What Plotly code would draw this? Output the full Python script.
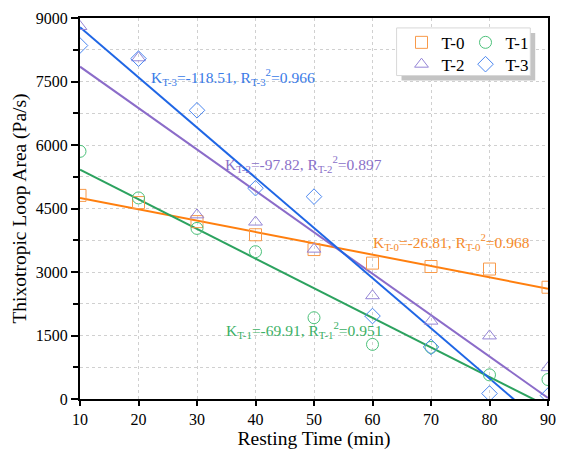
import numpy as np
import plotly.graph_objects as go

time_min = [10, 20, 30, 40, 50, 60, 70, 80, 90]
t0 = [4810, 4640, 4190, 3880, 3530, 3210, 3130, 3070, 2640]
t1 = [5850, 4750, 4030, 3480, 1920, 1290, 1220, 570, 460]
t2 = [8800, 8060, 4350, 4180, 3540, 2440, 1840, 1490, 740]
t3 = [8350, 8040, 6820, 4980, 4780, 1960, 1230, 130, 80]
names = ["T-0", "T-1", "T-2", "T-3"]
slopes = [-26.81, -69.91, -97.82, -118.51]
r2 = [0.968, 0.951, 0.897, 0.966]

series = [t0, t1, t2, t3]
symbols = ["square-open", "circle-open", "triangle-up-open", "diamond-open"]
marker_colors = ["#F89A4A", "#4CC17A", "#9585D6", "#4A86F0"]
line_colors = ["#FF7F0E", "#2CA25F", "#8B6CC9", "#1F66E5"]
text_colors = ["#F58A2A", "#3BB065", "#8A70C8", "#3A7BE8"]
label_pos = [(59.7, 3720), (34.6, 1640), (34.4, 5560), (21.8, 7600)]
legend_ids = ["legend", "legend", "legend2", "legend2"]

FONT = "Liberation Serif, Times New Roman, Times, serif"

fig = go.Figure()
x = np.array(time_min, dtype=float)
for i in range(4):
    y = np.array(series[i], dtype=float)
    b = y.mean() - slopes[i] * x.mean()
    fig.add_trace(go.Scatter(x=x, y=slopes[i] * x + b, mode="lines",
                             line=dict(color=line_colors[i], width=2),
                             showlegend=False, hoverinfo="skip"))

for i in range(4):
    fig.add_trace(go.Scatter(x=time_min, y=series[i], mode="markers", name=names[i],
                             legend=legend_ids[i],
                             marker=dict(symbol=symbols[i], size=12, color=marker_colors[i],
                                         line=dict(color=marker_colors[i], width=1))))

for i in range(4):
    lx, ly = label_pos[i]
    nm = names[i]
    fig.add_annotation(x=lx, y=ly, xref="x", yref="y", xanchor="left", yanchor="middle",
                       showarrow=False,
                       text=f"K<sub>{nm}</sub>={slopes[i]:.2f}, R<sub>{nm}</sub><sup>2</sup>={r2[i]:.3f}",
                       font=dict(family=FONT, size=15.5, color=text_colors[i]))

# legend box with shadow
L, R, T, B = 80, 556, 18, 402
def px(v): return (v - L) / (R - L)
def py(v): return (B - v) / (B - T)
fig.add_shape(type="rect", xref="paper", yref="paper", x0=px(407), x1=px(543), y0=py(81), y1=py(33),
              fillcolor="#C4C4C4", line=dict(width=0), layer="above")
fig.add_shape(type="rect", xref="paper", yref="paper", x0=px(402), x1=px(538), y0=py(76), y1=py(28),
              fillcolor="white", line=dict(width=1, color="#D8D8D8"), layer="above")

leg_common = dict(orientation="h", xanchor="left", yanchor="middle",
                  bgcolor="rgba(0,0,0,0)", borderwidth=0,
                  entrywidth=19, font=dict(family=FONT, size=17, color="black"),
                  itemwidth=30)
fig.update_layout(
    width=564, height=454,
    margin=dict(l=L, r=564 - R, t=T, b=454 - B),
    paper_bgcolor="white", plot_bgcolor="white",
    font=dict(family=FONT, size=15, color="black"),
    legend=dict(x=px(407), y=py(43), **leg_common),
    legend2=dict(x=px(407), y=py(65), **leg_common),
    xaxis=dict(range=[10, 90], tickvals=[10, 20, 30, 40, 50, 60, 70, 80, 90],
               showgrid=True, gridcolor="#D0D0D0", griddash="dot", gridwidth=1,
               showline=True, linecolor="black", linewidth=2, mirror=True,
               ticks="outside", ticklen=5, tickwidth=2, tickcolor="black",
               tickfont=dict(size=16), zeroline=False,
               title=dict(text="Resting Time (min)", font=dict(size=19.5), standoff=4)),
    yaxis=dict(range=[0, 9000], tickvals=[0, 1500, 3000, 4500, 6000, 7500, 9000],
               showgrid=True, gridcolor="#D0D0D0", griddash="dot", gridwidth=1,
               showline=True, linecolor="black", linewidth=2, mirror=True,
               ticks="outside", ticklen=7, tickwidth=1.5, tickcolor="black",
               minor=dict(dtick=750, tick0=0, ticks="outside", ticklen=5, tickcolor="black",
                          showgrid=True, gridcolor="#D0D0D0", griddash="dot"),
               tickfont=dict(size=16), zeroline=False,
               title=dict(text="Thixotropic Loop Area (Pa/s)", font=dict(size=19.5), standoff=4)),
)
fig.write_html("out.html")
